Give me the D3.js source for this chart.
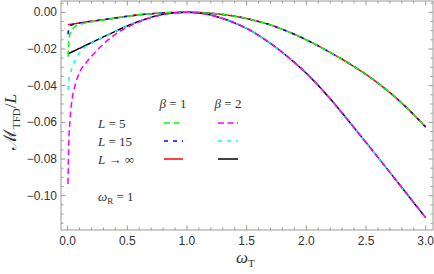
<!DOCTYPE html>
<html>
<head>
<meta charset="utf-8">
<script src="https://d3js.org/d3.v7.min.js"></script>
<style>
  body { margin: 0; background: #fff; }
  svg text { fill: #333; }
</style>
</head>
<body>
<svg id="chart"></svg>
<script>
// omega_T sample points (fine near zero where the finite-L curves dive)
var omega = [0.003, 0.01, 0.02, 0.04, 0.06, 0.1, 0.15, 0.2,
  0.3, 0.4, 0.5, 0.6, 0.7, 0.8, 0.9, 1.0,
  1.1, 1.2, 1.3, 1.4, 1.5, 1.6, 1.7, 1.8, 1.9, 2.0,
  2.1, 2.2, 2.3, 2.4, 2.5, 2.6, 2.7, 2.8, 2.9, 3.0];

// beta = 1
var b1Linf = [-0.0068, -0.0067, -0.0066, -0.0064, -0.0062, -0.0058, -0.0053, -0.0049,
  -0.0040, -0.0031, -0.0022, -0.0014, -0.0008, -0.0003, -0.0001, 0,
  -0.0001, -0.0005, -0.0012, -0.0021, -0.0034, -0.0050, -0.0069, -0.0093, -0.0120, -0.0150,
  -0.0183, -0.0219, -0.0256, -0.0296, -0.0339, -0.0386, -0.0438, -0.0495, -0.0558, -0.0626];
var b1L15 = [-0.0120, -0.0086, -0.0075, -0.0068, -0.0064, -0.0059, -0.0053, -0.0049,
  -0.0040, -0.0031, -0.0022, -0.0014, -0.0008, -0.0003, -0.0001, 0,
  -0.0001, -0.0005, -0.0012, -0.0021, -0.0034, -0.0050, -0.0069, -0.0093, -0.0120, -0.0150,
  -0.0183, -0.0219, -0.0256, -0.0296, -0.0339, -0.0386, -0.0438, -0.0495, -0.0558, -0.0626];
var b1L5 = [-0.0242, -0.0160, -0.0118, -0.0092, -0.0079, -0.0066, -0.0058, -0.0052,
  -0.0042, -0.0032, -0.0022, -0.0014, -0.0008, -0.0003, -0.0001, 0,
  -0.0001, -0.0005, -0.0012, -0.0021, -0.0034, -0.0050, -0.0069, -0.0093, -0.0120, -0.0150,
  -0.0183, -0.0219, -0.0256, -0.0296, -0.0339, -0.0386, -0.0438, -0.0495, -0.0558, -0.0626];

// beta = 2
var b2Linf = [-0.0226, -0.0224, -0.0221, -0.0215, -0.0209, -0.0197, -0.0181, -0.0166,
  -0.0134, -0.0104, -0.0075, -0.0049, -0.0027, -0.0011, -0.0003, 0,
  -0.0004, -0.0015, -0.0034, -0.0058, -0.0088, -0.0126, -0.0170, -0.0219, -0.0273, -0.0332,
  -0.0399, -0.0472, -0.0549, -0.0629, -0.0710, -0.0791, -0.0873, -0.0955, -0.1038, -0.1120];
var b2L15 = [-0.0423, -0.0370, -0.0340, -0.0300, -0.0266, -0.0220, -0.0187, -0.0168,
  -0.0134, -0.0104, -0.0075, -0.0049, -0.0027, -0.0011, -0.0003, 0,
  -0.0004, -0.0015, -0.0034, -0.0058, -0.0088, -0.0126, -0.0170, -0.0219, -0.0273, -0.0332,
  -0.0399, -0.0472, -0.0549, -0.0629, -0.0710, -0.0791, -0.0873, -0.0955, -0.1038, -0.1120];
var b2L5 = [-0.0936, -0.0710, -0.0588, -0.0465, -0.0405, -0.0327, -0.0279, -0.0240,
  -0.0173, -0.0120, -0.0082, -0.0052, -0.0029, -0.0012, -0.0003, 0,
  -0.0004, -0.0015, -0.0034, -0.0058, -0.0088, -0.0126, -0.0170, -0.0219, -0.0273, -0.0332,
  -0.0399, -0.0472, -0.0549, -0.0629, -0.0710, -0.0791, -0.0873, -0.0955, -0.1038, -0.1120];

var xTicks = [0, 0.5, 1, 1.5, 2, 2.5, 3];
var yTicks = [0, -0.02, -0.04, -0.06, -0.08, -0.1];
var rowLabels = ["L = 5", "L = 15", "L \u2192 \u221E"];

var width = 434, height = 274;
var frame = { left: 61, right: 433, top: 1, bottom: 230 };

var svg = d3.select("#chart").attr("width", width).attr("height", height);

var x = d3.scaleLinear().domain([0, 3]).range([67.6, 425.7]);
var y = d3.scaleLinear().domain([0, -0.1]).range([12.3, 195.7]);

// series drawn in back-to-front order
var series = [
  { v: b1Linf, color: "#ff0000", dash: null },
  { v: b2Linf, color: "#000000", dash: null },
  { v: b1L15, color: "#0000ff", dash: "4,5" },
  { v: b2L15, color: "#00ffff", dash: "4,5" },
  { v: b1L5, color: "#00ff00", dash: "6,3.5" },
  { v: b2L5, color: "#ff00ff", dash: "6,3.5" }
];

var line = d3.line()
  .x(function(d) { return x(d[0]); })
  .y(function(d) { return y(d[1]); })
  .curve(d3.curveMonotoneX);

svg.append("clipPath").attr("id", "clip")
  .append("rect")
  .attr("x", frame.left).attr("y", frame.top)
  .attr("width", frame.right - frame.left).attr("height", frame.bottom - frame.top);

svg.append("g").attr("clip-path", "url(#clip)")
  .selectAll("path")
  .data(series)
  .enter()
  .append("path")
  .attr("d", s => line(omega.map((w, i) => [w, s.v[i]])))
  .attr("fill", "none")
  .attr("stroke", s => s.color)
  .attr("stroke-width", 1.5)
  .attr("stroke-dasharray", s => s.dash);

// frame and ticks (Mathematica style, ticks pointing inward)
var axes = svg.append("g").attr("stroke", "#999").attr("stroke-width", 1);

axes.append("rect")
  .attr("x", frame.left).attr("y", frame.top)
  .attr("width", frame.right - frame.left).attr("height", frame.bottom - frame.top)
  .attr("fill", "none");

var xMinor = d3.range(0, 3.001, 0.1);
var yMinor = d3.range(0.005, -0.1181, -0.005);

xMinor.forEach(function(t) {
  var major = Math.abs(t * 2 - Math.round(t * 2)) < 1e-6;
  var len = major ? 4.5 : 2.5;
  axes.append("line").attr("x1", x(t)).attr("x2", x(t))
    .attr("y1", frame.bottom).attr("y2", frame.bottom - len);
  axes.append("line").attr("x1", x(t)).attr("x2", x(t))
    .attr("y1", frame.top).attr("y2", frame.top + len);
});

yMinor.forEach(function(t) {
  var major = Math.abs(t * 50 - Math.round(t * 50)) < 1e-6;
  var len = major ? 4.5 : 2.5;
  axes.append("line").attr("y1", y(t)).attr("y2", y(t))
    .attr("x1", frame.left).attr("x2", frame.left + len);
  axes.append("line").attr("y1", y(t)).attr("y2", y(t))
    .attr("x1", frame.right).attr("x2", frame.right - len);
});

var tickFont = "12px 'Liberation Sans', Arial, sans-serif";

svg.append("g")
  .selectAll("text")
  .data(xTicks)
  .enter()
  .append("text")
  .attr("x", d => x(d))
  .attr("y", frame.bottom + 15)
  .attr("text-anchor", "middle")
  .style("font", tickFont)
  .text(d => d3.format(".1f")(d));

svg.append("g")
  .selectAll("text")
  .data(yTicks)
  .enter()
  .append("text")
  .attr("x", frame.left - 4)
  .attr("y", d => y(d) + 4)
  .attr("text-anchor", "end")
  .style("font", tickFont)
  .text(d => d === 0 ? "0.00" : "\u2212" + d3.format(".2f")(-d));

// axis labels
var serif = "'Liberation Serif', 'Times New Roman', serif";

var xl = svg.append("text")
  .attr("x", 236).attr("y", 263)
  .style("font-family", serif).style("font-size", "17px");
xl.append("tspan").style("font-style", "italic").text("\u03C9");
xl.append("tspan").attr("dy", 4).style("font-size", "11px").text("T");

var yl = svg.append("text")
  .attr("transform", "translate(16,150) rotate(-90)")
  .style("font-family", serif).style("font-size", "17px");
yl.append("tspan").style("font-family", "'DejaVu Serif', serif").style("font-size", "18px").text("\u2133");
yl.append("tspan").attr("dy", 4).style("font-size", "11px").text("TFD");
yl.append("tspan").attr("dy", -4).text("/");
yl.append("tspan").style("font-style", "italic").text("L");

// legend
var legFont = "13px " + serif;
[["1", 173], ["2", 228]].forEach(function(b) {
  var t = svg.append("text").attr("x", b[1]).attr("y", 108)
    .attr("text-anchor", "middle").style("font", legFont);
  t.append("tspan").style("font-style", "italic").text("\u03B2");
  t.append("tspan").text(" = " + b[0]);
});

var rowY = [123, 141, 159];
rowLabels.forEach(function(lbl, i) {
  var t = svg.append("text").attr("x", 98).attr("y", rowY[i] + 4.5)
    .style("font", legFont);
  t.append("tspan").style("font-style", "italic").text("L");
  t.append("tspan").text(lbl.slice(1));
});

var legendCols = [[164, 183], [218, 238]];
var legendSeries = [[series[4], series[2], series[0]], [series[5], series[3], series[1]]];
legendCols.forEach(function(c, j) {
  legendSeries[j].forEach(function(s, i) {
    svg.append("line")
      .attr("x1", c[0]).attr("x2", c[1])
      .attr("y1", rowY[i]).attr("y2", rowY[i])
      .attr("stroke", s.color).attr("stroke-width", 1.5)
      .attr("stroke-dasharray", s.dash);
  });
});

var wr = svg.append("text").attr("x", 98).attr("y", 201).style("font", legFont);
wr.append("tspan").style("font-style", "italic").text("\u03C9");
wr.append("tspan").attr("dy", 3).style("font-size", "9px").text("R");
wr.append("tspan").attr("dy", -3).text(" = 1");
</script>
</body>
</html>
